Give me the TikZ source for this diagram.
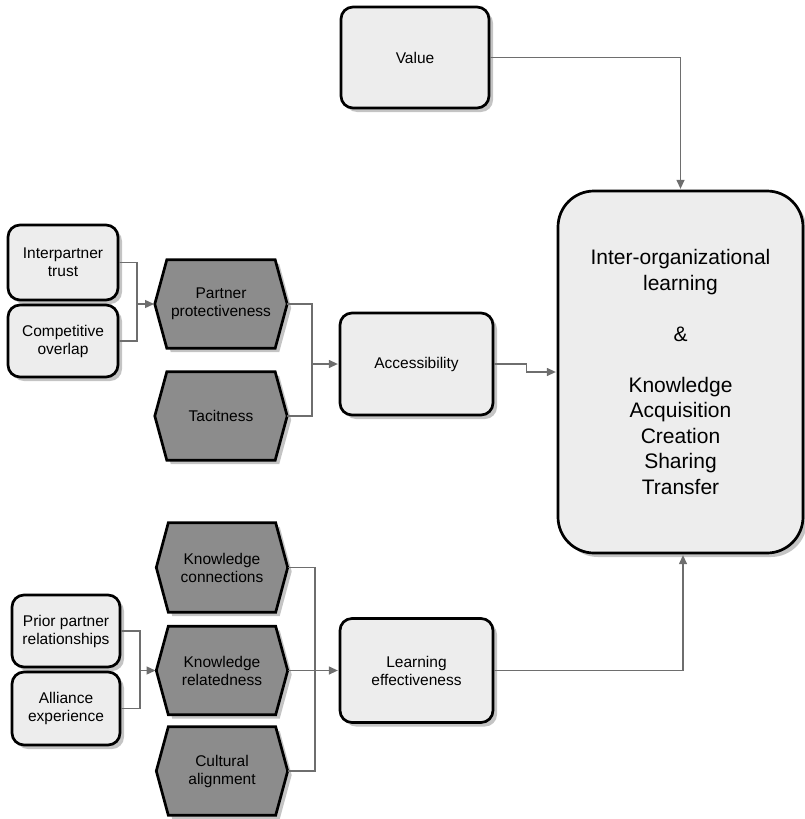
\documentclass[tikz,border=0pt]{standalone}
\usepackage{fontspec}
\setmainfont{Liberation Sans}
\usetikzlibrary{arrows.meta,shadows,backgrounds,calc}

\definecolor{boxfill}{HTML}{EDEDED}
\definecolor{hexfill}{HTML}{8C8C8C}
\definecolor{linegray}{HTML}{6E6E6E}
\definecolor{shadowgray}{HTML}{C4C4C4}

\tikzset{
  softshadow/.style={drop shadow={shadow xshift=4pt, shadow yshift=-4pt, fill=shadowgray, opacity=1}},
  lightbox/.style={draw=black, line width=2.7pt, fill=boxfill, rounded corners=12pt,
    align=center, font=\fontsize{15.5}{18}\selectfont, inner sep=0pt, softshadow},
  bigbox/.style={lightbox, rounded corners=36pt, font=\fontsize{21}{25.5}\selectfont},
  hexbox/.style={draw=none, fill=none, align=center, font=\fontsize{15.5}{18}\selectfont,
    inner sep=0pt, minimum width=132pt, minimum height=88pt},
  hexshape/.style={draw=black, line width=2.7pt, fill=hexfill, line join=miter, softshadow},
  wire/.style={draw=linegray, line width=1.3pt},
  conn/.style={wire, -{Triangle[length=9pt,width=8pt]}, shorten >=0.8pt},
}

\newcommand{\hexagonof}[1]{%
  \path[hexshape] (#1.west) -- ($(#1.north west)+(12,0)$) -- ($(#1.north east)+(-12,0)$)
    -- (#1.east) -- ($(#1.south east)+(-12,0)$) -- ($(#1.south west)+(12,0)$) -- cycle;}

\begin{document}
\begin{tikzpicture}[x=1pt, y=-1pt]
\useasboundingbox (0,0) rectangle (804,819);

% outcome and its three drivers
\node[lightbox, minimum width=148pt, minimum height=101pt] (value) at (415,57.5) {Value};
\node[bigbox, minimum width=245pt, minimum height=362pt] (big) at (680.5,372)
  {Inter-organizational\\learning\\[25.5pt]\&\\[25.5pt]Knowledge\\Acquisition\\Creation\\Sharing\\Transfer};
\node[lightbox, minimum width=153pt, minimum height=102pt] (acc) at (416.5,364) {Accessibility};
\node[lightbox, minimum width=153pt, minimum height=104pt] (le) at (416.5,670.5) {Learning\\effectiveness};

% accessibility antecedents
\node[lightbox, minimum width=110pt, minimum height=75pt] (it) at (63,262.5) {Interpartner\\trust};
\node[lightbox, minimum width=110pt, minimum height=72pt] (co) at (63,341) {Competitive\\overlap};
\node[hexbox] (pp) at (221,304) {Partner\\protectiveness};
\node[hexbox] (tac) at (221,416) {Tacitness};

% learning effectiveness antecedents
\node[hexbox, minimum width=131pt, minimum height=89pt] (kc) at (222,567.5) {Knowledge\\connections};
\node[hexbox, minimum width=131pt] (kr) at (222,670.5) {Knowledge\\relatedness};
\node[hexbox, minimum width=131pt] (ca) at (222,771) {Cultural\\alignment};
\node[lightbox, minimum width=108pt, minimum height=72pt] (ppr) at (66,631) {Prior partner\\relationships};
\node[lightbox, minimum width=108pt, minimum height=73pt] (ae) at (66,708.5) {Alliance\\experience};

% hexagon outlines behind their labels
\begin{scope}[on background layer]
  \hexagonof{pp}
  \hexagonof{tac}
  \hexagonof{kc}
  \hexagonof{kr}
  \hexagonof{ca}
\end{scope}

% junction points of the merging lines
\coordinate (j1) at (137,304);
\coordinate (j2) at (312,364);
\coordinate (j3) at (140,670.5);
\coordinate (j4) at (315,670.5);

% connectors
\draw[conn] (value.east) -| (big.north);
\draw[conn] (acc.east) -- ++(32,0) |- (big.west);
\draw[conn] (le.east) -| ([xshift=2.5pt]big.south);

\draw[wire] (it.east) -| (j1) |- (co.east);
\draw[conn] (j1) -- (pp.west);
\draw[wire] (pp.east) -| (j2) |- (tac.east);
\draw[conn] (j2) -- (acc.west);

\draw[wire] (ppr.east) -| (j3) |- (ae.east);
\draw[conn] (j3) -- (kr.west);
\draw[wire] (kc.east) -| (j4) |- (ca.east);
\draw[conn] (kr.east) -- (le.west);
\end{tikzpicture}
\end{document}
